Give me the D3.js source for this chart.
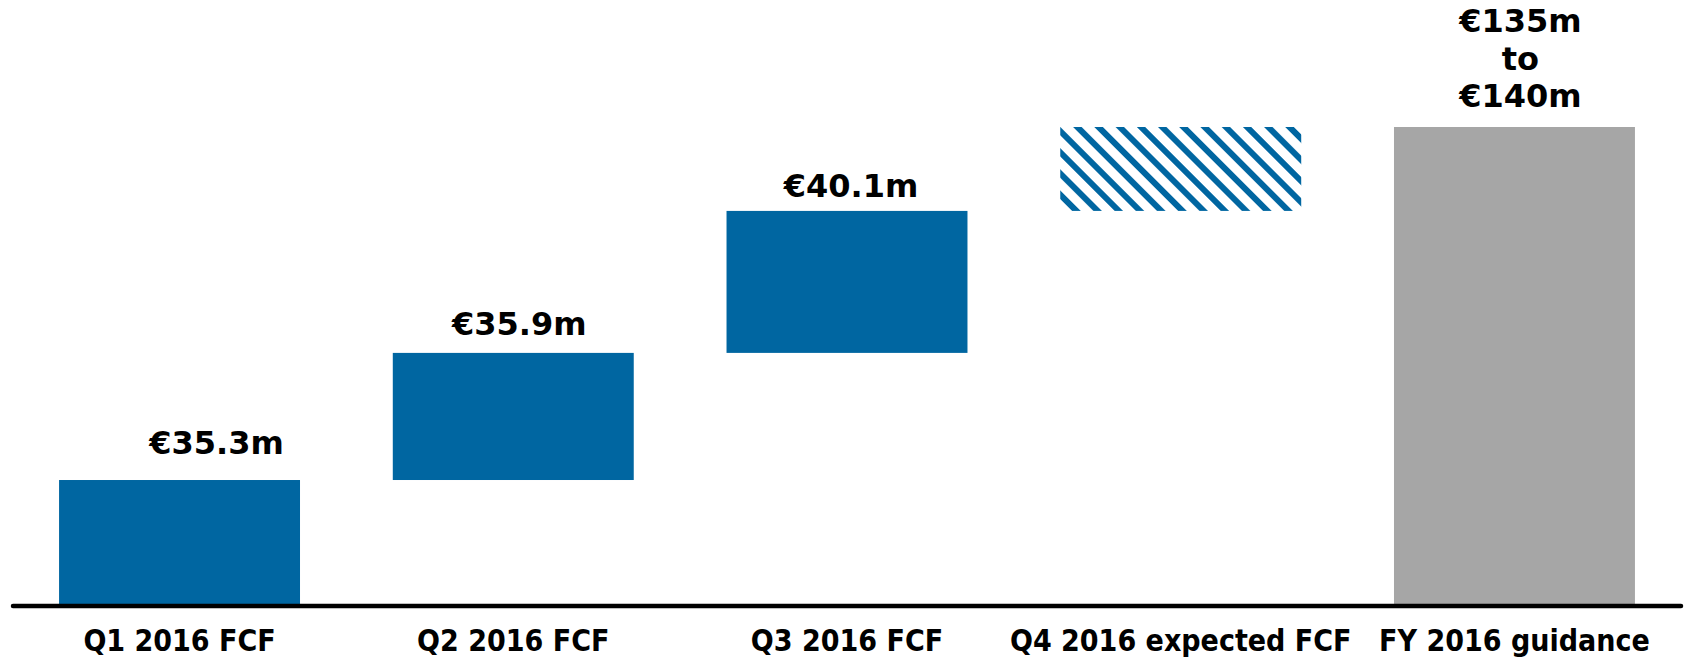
<!DOCTYPE html>
<html>
<head>
<meta charset="utf-8">
<script src="https://cdn.jsdelivr.net/npm/d3@7"></script>
<style>
  body { margin: 0; background: #fff; }
  svg { display: block; }
</style>
</head>
<body>
<svg id="chart" width="1688" height="659"></svg>
<script>
// data
const categories = ["Q1 2016 FCF", "Q2 2016 FCF", "Q3 2016 FCF", "Q4 2016 expected FCF", "FY 2016 guidance"];
const values = [35.3, 35.9, 40.1, 23.7, 135];   // Q4 = what is left to reach the low end of guidance
const barKinds = ["step", "step", "step", "expected", "total"];
const valueLabels = [["€35.3m"], ["€35.9m"], ["€40.1m"], [], ["€135m", "to", "€140m"]];

const blue = "#0066a1";
const grey = "#a6a6a6";

var svg = d3.select("#chart");

// waterfall: each step starts where the last one ended, the total starts at 0
var running = 0;
var bars = categories.map(function(c, i) {
    var start = barKinds[i] == "total" ? 0 : running;
    var end = start + values[i];
    if (barKinds[i] != "total") running = end;
    return { cat: c, start: start, end: end, kind: barKinds[i], labels: valueLabels[i] };
});

var x = d3.scaleBand().domain(categories).range([11, 1683]).paddingInner(0.278).paddingOuter(0.144);
var y = d3.scaleLinear().domain([0, 135]).range([605, 127]);

// hatch for the expected quarter
var defs = svg.append("defs");
var pat = defs.append("pattern")
    .attr("id", "hatch")
    .attr("patternUnits", "userSpaceOnUse")
    .attr("width", 15)
    .attr("height", 15)
    .attr("patternTransform", "rotate(45)");
pat.append("rect").attr("width", 15).attr("height", 15).attr("fill", "#fff");
pat.append("rect").attr("y", 0).attr("width", 15).attr("height", 6).attr("fill", blue);

svg.append("g")
    .selectAll("rect")
    .data(bars)
    .enter()
    .append("rect")
    .attr("x", function(d) { return x(d.cat); })
    .attr("y", function(d) { return y(d.end); })
    .attr("width", x.bandwidth())
    .attr("height", function(d) { return y(d.start) - y(d.end); })
    .attr("fill", function(d) {
        if (d.kind == "expected") return "url(#hatch)";
        if (d.kind == "total") return grey;
        return blue;
    });

// value labels (nudged like on the slide)
var nudgeX = [37, 6, 4, 0, 6];
var gapAbove = [26, 18, 14, 0, 20];
var lineStep = 37.5;

var lab = svg.append("g")
    .attr("font-family", "'DejaVu Sans', Verdana, sans-serif")
    .attr("font-weight", "bold")
    .attr("font-size", 32)
    .attr("text-anchor", "middle")
    .attr("fill", "#000");

bars.forEach(function(d, i) {
    var n = d.labels.length;
    d.labels.forEach(function(t, j) {
        lab.append("text")
            .attr("x", x(d.cat) + x.bandwidth() / 2 + nudgeX[i])
            .attr("y", y(d.end) - gapAbove[i] - (n - 1 - j) * lineStep)
            .text(t);
    });
});

// category axis
var axis = svg.append("g")
    .attr("transform", "translate(0,606)")
    .call(d3.axisBottom(x).tickSize(0).tickSizeOuter(0));

axis.select(".domain")
    .attr("stroke", "#000")
    .attr("stroke-width", 4.5)
    .attr("stroke-linecap", "round")
    .attr("d", "M" + (x.range()[0] + 2) + ",0H" + (x.range()[1] - 2));

axis.selectAll(".tick text")
    .attr("y", 45)
    .attr("dy", 0)
    .attr("fill", "#000")
    .style("font-family", "'DejaVu Sans Condensed', 'DejaVu Sans', sans-serif")
    .style("font-stretch", "condensed")
    .style("font-weight", "bold")
    .style("font-size", "30px");
</script>
</body>
</html>
